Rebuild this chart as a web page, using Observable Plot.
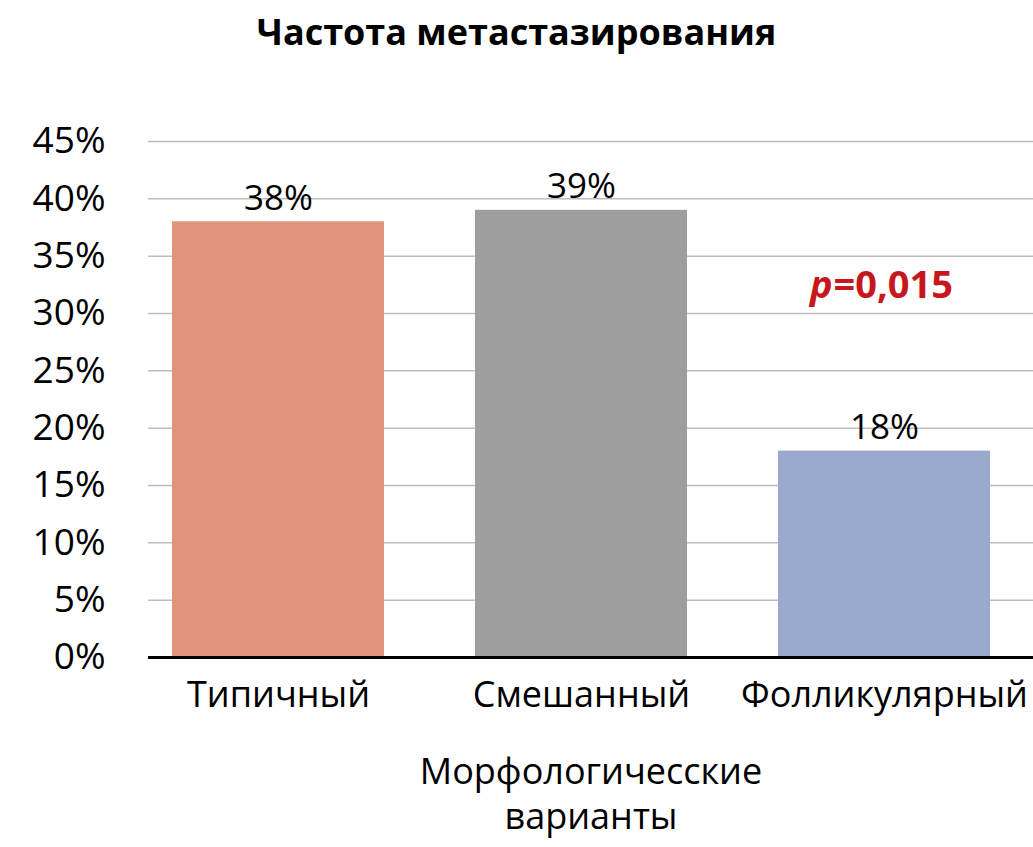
<!DOCTYPE html>
<html>
<head>
<meta charset="utf-8">
<script src="https://cdn.jsdelivr.net/npm/d3@7"></script>
<script src="https://cdn.jsdelivr.net/npm/@observablehq/plot@0.6"></script>
<style>
  html, body { margin: 0; padding: 0; background: #fff; }
  #title { width: 1033px; height: 80px; line-height: 64px; text-align: center;
           font-family: "Open Sans", sans-serif; font-weight: 700; font-size: 36px; color: #000; }
  svg { display: block; }
</style>
</head>
<body>
<div id="title">Частота метастазирования</div>
<div id="chart"></div>
<script>
const categories = ["Типичный", "Смешанный", "Фолликулярный"];
const values = [38, 39, 18];
const colors = ["#e1947b", "#9e9e9e", "#99aacc"];
const yTicks = [0, 5, 10, 15, 20, 25, 30, 35, 40, 45];
const axisLabel = "Морфологичесские\nварианты";
const pAnnotation = [{category: "Фолликулярный", y: 32.4, p: "p", rest: "=0,015"}];

const data = categories.map((c, i) => ({category: c, value: values[i]}));

const chart = Plot.plot({
  width: 1033,
  height: 767,
  marginLeft: 148,
  marginRight: 0,
  marginTop: 61,
  marginBottom: 190,
  style: {fontFamily: "'Open Sans', sans-serif", color: "#000", background: "#fff"},
  x: {domain: categories, range: [127, 1036], paddingInner: 0.3, paddingOuter: 0.15},
  y: {domain: [0, 45]},
  color: {domain: categories, range: colors},
  marks: [
    Plot.ruleY(yTicks.filter(d => d > 0), {stroke: "#bdbdbd", strokeWidth: 1.5}),
    Plot.barY(data, {x: "category", y: "value", fill: "category"}),
    Plot.ruleY([0], {stroke: "#000", strokeWidth: 3}),
    Plot.text(data, {x: "category", y: "value", text: d => d.value + "%", lineAnchor: "bottom", dy: -12, fontSize: 35, fill: "#000"}),
    Plot.axisY({ticks: yTicks, tickSize: 0, tickPadding: 43, tickFormat: d => d + "%", fontSize: 37, label: null}),
    Plot.axisX({tickSize: 0, tickPadding: 24, fontSize: 36, label: null}),
    Plot.text([axisLabel], {frameAnchor: "bottom", text: d => d, lineAnchor: "top", dy: 95, lineHeight: 1.25, fontSize: 36, fill: "#000"}),
    Plot.text(pAnnotation, {x: "category", y: "y", text: "p", textAnchor: "end", dx: -52, fontSize: 38, fontWeight: 700, fontStyle: "italic", fill: "#c8161d"}),
    Plot.text(pAnnotation, {x: "category", y: "y", text: "rest", textAnchor: "start", dx: -51, fontSize: 38, fontWeight: 700, fill: "#c8161d"})
  ]
});
document.getElementById("chart").appendChild(chart);
</script>
</body>
</html>
